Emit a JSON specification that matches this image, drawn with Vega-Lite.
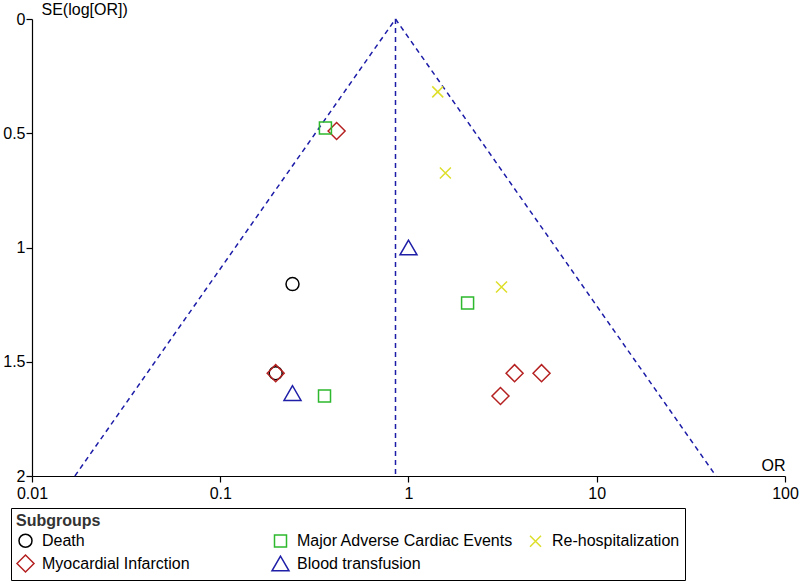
{
  "$schema": "https://vega.github.io/schema/vega-lite/v6.json",
  "autosize": {"type": "none"},
  "padding": {"left": 32, "top": 19, "right": 15, "bottom": 106},
  "width": 753,
  "height": 457,
  "background": "white",
  "config": {
    "font": "Liberation Sans",
    "view": {"stroke": null},
    "axis": {
      "domainColor": "black",
      "domainWidth": 1.2,
      "tickColor": "black",
      "tickWidth": 1.2,
      "tickSize": 6,
      "labelFontSize": 16,
      "labelColor": "black",
      "titleFontSize": 16,
      "titleFontWeight": "normal",
      "titleColor": "black",
      "grid": false
    }
  },
  "datasets": {
    "funnel": [
      {"line": "left", "or": 0.853, "se": 0},
      {"line": "left", "or": 0.0169, "se": 2},
      {"line": "right", "or": 0.853, "se": 0},
      {"line": "right", "or": 43.0, "se": 2},
      {"line": "mid", "or": 0.853, "se": 0},
      {"line": "mid", "or": 0.853, "se": 2}
    ],
    "studies": [
      {"group": "Death", "or": 0.242, "se": 1.16},
      {"group": "Death", "or": 0.197, "se": 1.55},
      {"group": "Myocardial Infarction", "or": 0.415, "se": 0.49},
      {"group": "Myocardial Infarction", "or": 0.197, "se": 1.55},
      {"group": "Myocardial Infarction", "or": 3.66, "se": 1.55},
      {"group": "Myocardial Infarction", "or": 5.09, "se": 1.55},
      {"group": "Myocardial Infarction", "or": 3.08, "se": 1.65},
      {"group": "Major Adverse Cardiac Events", "or": 0.362, "se": 0.477},
      {"group": "Major Adverse Cardiac Events", "or": 2.06, "se": 1.243},
      {"group": "Major Adverse Cardiac Events", "or": 0.358, "se": 1.65},
      {"group": "Re-hospitalization", "or": 1.43, "se": 0.319},
      {"group": "Re-hospitalization", "or": 1.57, "se": 0.674},
      {"group": "Re-hospitalization", "or": 3.12, "se": 1.173},
      {"group": "Blood transfusion", "or": 1.0, "se": 1.0},
      {"group": "Blood transfusion", "or": 0.242, "se": 1.637}
    ]
  },
  "layer": [
    {
      "data": {"name": "funnel"},
      "mark": {"type": "line", "color": "#1c1ca8", "strokeWidth": 1.5, "strokeDash": [5, 4]},
      "encoding": {
        "x": {"field": "or", "type": "quantitative"},
        "y": {"field": "se", "type": "quantitative"},
        "detail": {"field": "line"}
      }
    },
    {
      "data": {"name": "studies"},
      "mark": {"type": "point", "filled": false, "strokeWidth": 1.5, "opacity": 1},
      "encoding": {
        "x": {
          "field": "or", "type": "quantitative",
          "scale": {"type": "log", "domain": [0.01, 100], "nice": false},
          "axis": {
            "values": [0.01, 0.1, 1, 10, 100], "format": "~g",
            "labelPadding": 3, "labelFlush": false, "labelOverlap": false,
            "title": "OR", "titleX": 753, "titleY": -6, "titleAlign": "right",
            "titleBaseline": "alphabetic", "titleAnchor": null
          }
        },
        "y": {
          "field": "se", "type": "quantitative",
          "scale": {"domain": [0, 2], "reverse": true, "nice": false, "zero": false},
          "axis": {
            "values": [0, 0.5, 1, 1.5, 2], "format": "~g",
            "labelPadding": 1, "labelFlush": false, "labelOverlap": false,
            "title": "SE(log[OR])", "titleAngle": 0, "titleX": 9, "titleY": -4.5,
            "titleAlign": "left", "titleBaseline": "alphabetic", "titleAnchor": null
          }
        },
        "color": {
          "field": "group", "type": "nominal",
          "scale": {
            "domain": ["Death", "Major Adverse Cardiac Events", "Re-hospitalization", "Myocardial Infarction", "Blood transfusion"],
            "range": ["#000000", "#2db82d", "#dede2a", "#b52020", "#1f1fa8"]
          },
          "legend": {
            "title": "Subgroups",
            "orient": "none",
            "direction": "horizontal",
            "legendX": -21,
            "legendY": 489,
            "columns": 3,
            "gridAlign": "all",
            "columnPadding": 10,
            "rowPadding": 0,
            "padding": 5,
            "strokeColor": "black",
            "fillColor": "white",
            "titleFontSize": 16,
            "titleFontWeight": "bold",
            "titleColor": "#333333",
            "titlePadding": 2,
            "labelFontSize": 16,
            "labelColor": "black",
            "labelOffset": 7,
            "labelLimit": 400,
            "symbolStrokeWidth": 1.5
          }
        },
        "shape": {
          "field": "group", "type": "nominal",
          "scale": {
            "domain": ["Death", "Major Adverse Cardiac Events", "Re-hospitalization", "Myocardial Infarction", "Blood transfusion"],
            "range": ["circle", "square", "M-1,-1L1,1M-1,1L1,-1", "diamond", "triangle-up"]
          },
          "legend": {"title": "Subgroups"}
        },
        "size": {
          "field": "group", "type": "nominal",
          "scale": {
            "type": "ordinal",
            "domain": ["Death", "Major Adverse Cardiac Events", "Re-hospitalization", "Myocardial Infarction", "Blood transfusion"],
            "range": [169, 144, 121, 289, 289]
          },
          "legend": {"title": "Subgroups"}
        }
      }
    }
  ]
}
